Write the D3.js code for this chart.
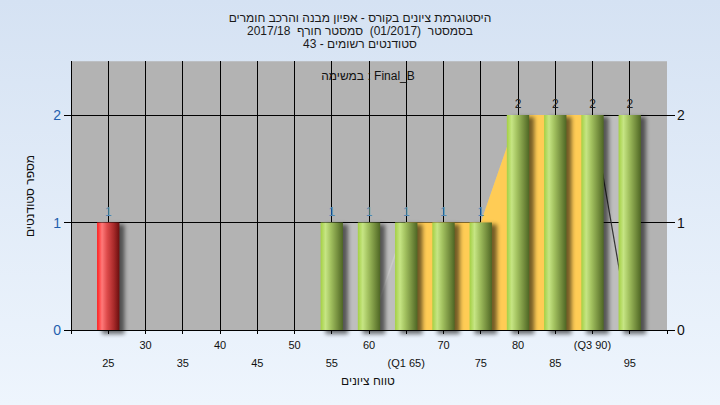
<!DOCTYPE html>
<html><head><meta charset="utf-8">
<script src="https://cdn.jsdelivr.net/npm/d3@7"></script>
<style>
html,body{margin:0;padding:0;}
body{width:720px;height:405px;overflow:hidden;}
text{font-family:"Liberation Sans",Arial,sans-serif;white-space:pre;}
</style></head>
<body>
<script>
// ---- data ----
const titleLines = ["היסטוגרמת ציונים בקורס - אפיון מבנה והרכב חומרים", "בסמסטר  (01/2017)  סמסטר חורף  2017/18", "סטודנטים רשומים - 43"];
const taskLabel = "במשימה : Final_B";
const xTitle = "טווח ציונים";
const yTitle = "מספר סטודנטים";
const categories = [25, 30, 35, 40, 45, 50, 55, 60, 65, 70, 75, 80, 85, 90, 95];
const counts     = [1,  0,  0,  0,  0,  0,  1,  1,  1,  1,  1,  2,  2,  2,  2];
const tickLabels = ["25","30","35","40","45","50","55","60","(Q1 65)","70","75","80","85","(Q3 90)","95"];
const passGrade = 55;
const q1 = 65, q3 = 90;
const iqrEdgeLeft  = [[60, 0], [65, 1]];
const iqrEdgeRight = [[90, 2], [95, 0]];
const yTicks = [0, 1, 2];

// ---- setup ----
const W = 720, H = 405;
const svg = d3.select("body").append("svg").attr("width", W).attr("height", H);
const defs = svg.append("defs");
const bg = defs.append("linearGradient").attr("id","bg").attr("x1",0).attr("y1",0).attr("x2",0).attr("y2",1);
bg.append("stop").attr("offset","0%").attr("stop-color","#d5e2f3");
bg.append("stop").attr("offset","100%").attr("stop-color","#eef5fd");
svg.append("rect").attr("width",W).attr("height",H).attr("fill","url(#bg)");

function cyl(id, stops){
  const g = defs.append("linearGradient").attr("id",id).attr("x1",0).attr("y1",0).attr("x2",1).attr("y2",0);
  stops.forEach(s=>g.append("stop").attr("offset",s[0]).attr("stop-color",s[1]));
}
cyl("gGreen", [["0%","#a4d043"],["22%","#c6e584"],["45%","#a3c260"],["75%","#76903f"],["100%","#4e6624"]]);
cyl("gRed",   [["0%","#ff1c1c"],["22%","#ff7a7a"],["45%","#dd4a4a"],["75%","#a82a2a"],["100%","#6a0e0e"]]);
const f = defs.append("filter").attr("id","shadow").attr("x","-50%").attr("y","-10%").attr("width","200%").attr("height","130%");
f.append("feGaussianBlur").attr("stdDeviation",2.2);

const x = d3.scaleLinear().domain([20, 100]).range([71, 667]);
const y = d3.scaleLinear().domain([0, 2.5]).range([330, 61.25]);
const step = x(25) - x(20);
const bw = step * 0.6;

// plot background
svg.append("rect").attr("x",x(20)).attr("y",y(2.5)).attr("width",x(100)-x(20)).attr("height",y(0)-y(2.5)).attr("fill","#b3b3b3");

// light area under counts (from pass grade onward)
const lightPts = categories.map((c,i)=>[c,counts[i]]).filter(d=>d[0]>=passGrade);
svg.append("path").datum(lightPts)
  .attr("d", d3.area().x(d=>x(d[0])).y0(y(0)).y1(d=>y(d[1])))
  .attr("fill","#bebebe");

// grid
const g = svg.append("g");
g.selectAll(".vg").data(d3.range(20, 100, 5)).join("line")
  .attr("x1",d=>x(d)).attr("x2",d=>x(d)).attr("y1",y(2.5)).attr("y2",y(0))
  .attr("stroke","#000").attr("stroke-width",1).attr("shape-rendering","crispEdges");
g.selectAll(".hg").data(yTicks).join("line")
  .attr("x1",x(20)).attr("x2",x(100)).attr("y1",d=>y(d)).attr("y2",d=>y(d))
  .attr("stroke","#000").attr("stroke-width",1).attr("shape-rendering","crispEdges");

// IQR area
const iqrPts = categories.map((c,i)=>[c,counts[i]]).filter(d=>d[0]>=q1 && d[0]<=q3);
svg.append("path").datum(iqrPts)
  .attr("d", d3.area().x(d=>x(d[0])).y0(y(0)).y1(d=>y(d[1])))
  .attr("fill","#ffcc55");
const ln = d3.line().x(d=>x(d[0])).y(d=>y(d[1]));
svg.append("path").datum(iqrEdgeLeft).attr("d",ln).attr("stroke","#cacaca").attr("stroke-width",1.5).attr("fill","none");
svg.append("path").datum(iqrEdgeRight).attr("d",ln).attr("stroke","#333").attr("stroke-width",1.2).attr("fill","none");

// bars
const data = categories.map((c,i)=>({c, v:counts[i], label:tickLabels[i]}));
const bars = data.filter(d=>d.v>0);
svg.append("g").selectAll("rect").data(bars).join("rect")
  .attr("x",d=>x(d.c)-bw/2+5).attr("y",d=>y(d.v)+2).attr("width",bw).attr("height",d=>y(0)-y(d.v)+2)
  .attr("fill","#000").attr("opacity",0.55).attr("filter","url(#shadow)");
svg.append("g").selectAll("rect").data(bars).join("rect")
  .attr("x",d=>x(d.c)-bw/2).attr("y",d=>y(d.v)).attr("width",bw).attr("height",d=>y(0)-y(d.v))
  .attr("fill",d=>d.c<passGrade?"url(#gRed)":"url(#gGreen)");
svg.append("g").selectAll("text").data(bars).join("text")
  .attr("x",d=>x(d.c)).attr("y",d=>y(d.v)-7).attr("text-anchor","middle")
  .attr("font-size",12).attr("fill",d=>d.v>1?"#222":"#4f86b4").text(d=>d.v);

// axes
svg.append("line").attr("x1",x(20)).attr("x2",x(100)).attr("y1",y(0)).attr("y2",y(0)).attr("stroke","#000").attr("shape-rendering","crispEdges");
svg.append("line").attr("x1",x(20)).attr("x2",x(20)).attr("y1",y(2.5)).attr("y2",y(0)).attr("stroke","#000").attr("shape-rendering","crispEdges");
svg.selectAll(".xt").data(d3.range(20, 101, 5)).join("line")
  .attr("x1",d=>x(d)).attr("x2",d=>x(d)).attr("y1",y(0)).attr("y2",y(0)+4)
  .attr("stroke","#000").attr("shape-rendering","crispEdges");
svg.selectAll(".xl").data(data).join("text")
  .attr("x",d=>x(d.c)).attr("y",(d,i)=>i%2===1?349:367).attr("text-anchor","middle")
  .attr("font-size",11).attr("fill","#111").text(d=>d.label);
// left y axis
svg.selectAll(".ylt").data(yTicks).join("line")
  .attr("x1",x(20)-7).attr("x2",x(20)).attr("y1",d=>y(d)).attr("y2",d=>y(d))
  .attr("stroke","#000").attr("shape-rendering","crispEdges");
svg.selectAll(".yl").data(yTicks).join("text")
  .attr("x",x(20)-10).attr("y",d=>y(d)+5).attr("text-anchor","end")
  .attr("font-size",14).attr("fill","#1f5fae").text(d=>d);
// right y axis
svg.selectAll(".yrt").data(yTicks).join("line")
  .attr("x1",x(100)).attr("x2",x(100)+8).attr("y1",d=>y(d)).attr("y2",d=>y(d))
  .attr("stroke","#000").attr("shape-rendering","crispEdges");
svg.selectAll(".yr").data(yTicks).join("text")
  .attr("x",x(100)+10).attr("y",d=>y(d)+5).attr("text-anchor","start")
  .attr("font-size",14).attr("fill","#111").text(d=>d);

// titles
svg.selectAll(".tt").data(titleLines).join("text")
  .attr("x",360).attr("y",(d,i)=>22+i*13).attr("text-anchor","middle").attr("direction","rtl")
  .attr("font-size",12).attr("fill","#1a1a1a").text(d=>d);
svg.append("text").attr("x",368).attr("y",80).attr("text-anchor","middle")
  .attr("font-size",12).attr("fill","#111").text(taskLabel);
svg.append("text").attr("x",368).attr("y",385).attr("text-anchor","middle")
  .attr("font-size",12).attr("fill","#111").text(xTitle);
svg.append("text").attr("transform","translate(34,196) rotate(-90)").attr("text-anchor","middle")
  .attr("font-size",12).attr("fill","#111").text(yTitle);
</script>
</body></html>
